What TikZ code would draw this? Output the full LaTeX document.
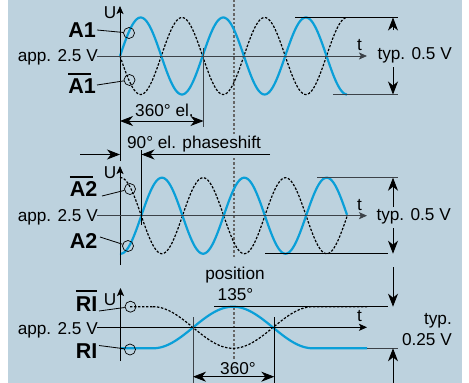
\documentclass[tikz,border=0pt]{standalone}
\usepackage{fontspec}
\setmainfont{Liberation Sans}
\usetikzlibrary{arrows.meta}
\definecolor{bgc}{HTML}{BDD2DE}
\definecolor{bluec}{HTML}{0A9FD8}
\definecolor{axisc}{HTML}{3C4248}
\newcommand\barred[2]{\vbox{\offinterlineskip\hbox{\rule{#1}{1.9pt}}\kern 4pt\hbox{#2}}}
\tikzset{
 x=1pt,y=-1pt,
 lbl/.style={anchor=base,inner sep=0pt,font=\fontsize{17.2}{17.2}\selectfont,text=black},
 blbl/.style={anchor=base east,inner sep=0pt,font=\fontsize{21.5}{21.5}\selectfont\bfseries,text=black},
 ln/.style={line width=0.8pt,draw=black},
 ax/.style={line width=1pt,draw=axisc},
 dim/.style={line width=0.8pt,draw=black},
 tip/.style={-{Stealth[length=8pt,width=7pt,inset=1.8pt]}},
 tiptwo/.style={{Stealth[length=13pt,width=10pt,inset=4pt]}-{Stealth[length=13pt,width=10pt,inset=4pt]}},
 tipend/.style={-{Stealth[length=13pt,width=10pt,inset=4pt]}},
 bluew/.style={line width=2.2pt,draw=bluec,line join=round},
 dotw/.style={line width=1.2pt,draw=black,dash pattern=on 2.4pt off 1.6pt},
 mid/.style={line width=1.1pt,draw=black!60,dash pattern=on 2.4pt off 2pt},
 ring/.style={circle,draw=black,line width=0.7pt,minimum size=11pt,inner sep=0pt},
}
\begin{document}
\begin{tikzpicture}
\useasboundingbox (0,0) rectangle (469,383);
\fill[bgc] (8,0) rectangle (462,383);
% vertical position line
\draw[mid] (234,0) -- (234,135);
\draw[mid] (234,158) -- (234,258);
\draw[mid] (234,308) -- (234,359);
% curves top
\draw[dotw] plot[domain=120:347,samples=180] (\x,{56+38.5*sin(4.358*(\x-120))});
\draw[bluew] plot[domain=120:347,samples=180] (\x,{56-38.5*sin(4.358*(\x-120))});
% curves middle
\draw[dotw] plot[domain=120:347,samples=180] (\x,{215.7+38*sin(4.369*(\x-141.3))});
\draw[bluew] plot[domain=120:347,samples=180] (\x,{215.7-38*sin(4.369*(\x-141.3))});
% curves bottom
\draw[dotw] (130,306.7) -- (153,306.7) plot[domain=153:233,samples=50] (\x,{327.5-20.8*cos(2.25*(\x-153))}) plot[domain=233:313,samples=50] (\x,{327.5+20.8*cos(2.25*(\x-233))}) -- (367,306.7);
\draw[bluew] (120,348.3) -- (153,348.3) plot[domain=153:233,samples=50] (\x,{327.5+20.8*cos(2.25*(\x-153))}) plot[domain=233:313,samples=50] (\x,{327.5-20.8*cos(2.25*(\x-233))}) -- (367,348.3);
% axes
\coordinate (a1t) at (120,6); \coordinate (a1b) at (120,161);
\coordinate (a2t) at (120,166); \coordinate (a2b) at (120,265);
\coordinate (a3t) at (120.5,288); \coordinate (a3b) at (120.5,361);
\draw[ln,tip] (a1b) -- (a1t);
\draw[ln,tip] (a2b) -- (a2t);
\draw[ln,tip] (a3b) -- (a3t);
\coordinate (t1s) at (97,56); \coordinate (t1e) at (367,56);
\coordinate (t2s) at (97,215.7); \coordinate (t2e) at (367,215.7);
\coordinate (t3s) at (97,327.3); \coordinate (t3e) at (367,327.3);
\draw[ax,tip] (t1s) -- (t1e);
\draw[ax,tip] (t2s) -- (t2e);
\draw[ln,tip] (t3s) -- (t3e);
% labels
\node[lbl] (u1) at (110,18.5) {U};
\node[lbl] (u2) at (110,178) {U};
\node[lbl] (u3) at (110,305) {U};
\node[lbl,anchor=base east] (app1) at (98,61) {app. 2.5 V};
\node[lbl,anchor=base east] (app2) at (98,221.7) {app. 2.5 V};
\node[lbl,anchor=base east] (app3) at (98,334) {app. 2.5 V};
\node[lbl] (t1) at (359.5,50) {t};
\node[lbl] (t2) at (359.5,210) {t};
\node[lbl] (t3) at (359.5,321.7) {t};
\node[lbl,anchor=base east] (typ1) at (452,59) {typ. 0.5 V};
\node[lbl,anchor=base east] (typ2) at (451,220.7) {typ. 0.5 V};
\node[lbl,anchor=base east] (typ3) at (452,324) {typ.};
\node[lbl,anchor=base east] (typ3b) at (452,345.7) {0.25 V};
\node[lbl] (el) at (164.5,116) {360° el.};
\node[lbl] (ph) at (194,148) {90° el. phaseshift};
\node[lbl] (pos) at (235,279) {position};
\node[lbl] (deg) at (235.5,300) {135°};
\node[lbl] (degb) at (238,374) {360°};
\node[blbl] (A1) at (96,37) {A1};
\node[blbl] (A1n) at (96,93.5) {\barred{23pt}{A1}};
\node[blbl] (A2n) at (97.5,196.7) {\barred{23pt}{A2}};
\node[blbl] (A2) at (97.5,248) {A2};
\node[blbl] (RIn) at (97.5,311) {\barred{21pt}{RI}};
\node[blbl] (RI) at (97.5,358) {RI};
% rings
\node[ring] (c1) at (129,33) {};
\node[ring] (c2) at (129.5,80) {};
\node[ring] (c3) at (130,189) {};
\node[ring] (c4) at (128,246) {};
\node[ring] (c5) at (130.5,306.7) {};
\node[ring] (c6) at (130,349.5) {};
\coordinate (l1) at (97,30); \coordinate (l2) at (97,85); \coordinate (l3) at (102,196);
\coordinate (l4) at (100,237); \coordinate (l5) at (99,311); \coordinate (l6) at (99,345.5);
\draw[ln] (l1) -- (c1); \draw[ln] (l2) -- (c2); \draw[ln] (l3) -- (c3);
\draw[ln] (l4) -- (c4); \draw[ln] (l5) -- (c5); \draw[ln] (l6) -- (c6);
% top dimensions
\draw[ln] (295,17.5) -- (398,17.5);
\draw[ax] (333,94.5) -- (398,94.5);
\draw[dim,tipend] (393,30) -- (393,17.5);
\draw[dim,tipend] (393,67) -- (393,94.5);
\draw[dim,tiptwo] (120,121) -- (203.5,121);
\draw[ax] (203.5,48) -- (203.5,127);
% phase shift
\draw[dim,tipend] (80,154.5) -- (120,154.5);
\draw[dim,tipend] (270,154.5) -- (141.5,154.5);
\draw[ln] (141.5,150) -- (141.5,225);
% middle dimensions
\draw[ax] (317,177.7) -- (398,177.7);
\draw[ln] (265,253.7) -- (388,253.7);
\draw[dim,tipend] (393,207) -- (393,177.7);
\draw[dim,tipend] (393,228) -- (393,253.7);
% bottom dimensions
\draw[ln] (214,306.7) -- (388,306.7);
\draw[ax] (367,348.3) -- (398,348.3);
\draw[dim,tipend] (393,267) -- (393,306.7);
\draw[dim,tipend] (393,383) -- (393,348.3);
\draw[ax] (193,317) -- (193,383);
\draw[ln] (274.3,317) -- (274.3,383);
\draw[dim,tiptwo] (193,376.7) -- (274.3,376.7);
\end{tikzpicture}
\end{document}
